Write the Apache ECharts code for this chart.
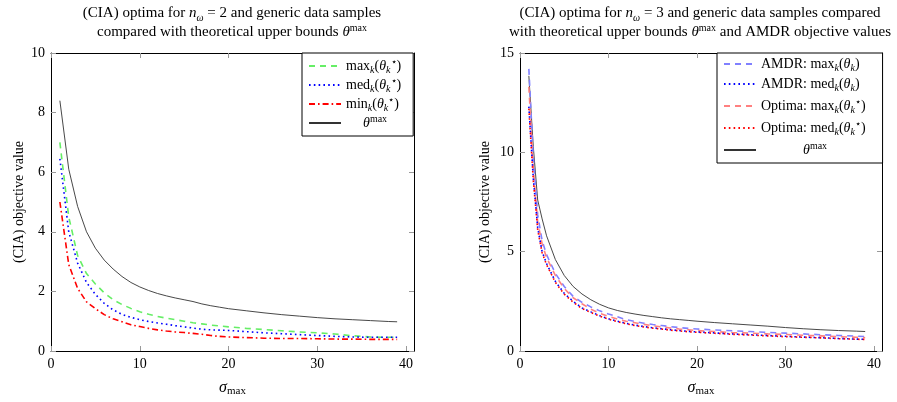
<!DOCTYPE html>
<html>
<head>
<meta charset="utf-8">
<script src="https://cdn.jsdelivr.net/npm/echarts@6/dist/echarts.min.js"></script>
<style>
html,body{margin:0;padding:0;background:#fff;}
#c{width:897px;height:402px;}
</style>
</head>
<body>
<div id="c"></div>
<script>
// ---- data ----
const sigmaL = [1,2,3,4,5,6,7,8,9,10,11,12,13,14,15,16,17,18,19,20,22,24,26,28,30,32,34,36,38,39];

// left panel (n_omega = 2)
const max2  = [7.0,4.5,3.2,2.6,2.25,1.95,1.72,1.56,1.43,1.32,1.23,1.16,1.1,1.05,1.0,0.95,0.91,0.87,0.84,0.81,0.76,0.72,0.68,0.64,0.61,0.57,0.51,0.47,0.46,0.46];
const med2  = [6.45,4.0,2.95,2.3,1.9,1.6,1.38,1.23,1.13,1.05,0.99,0.94,0.9,0.85,0.81,0.77,0.73,0.71,0.7,0.69,0.65,0.61,0.58,0.55,0.52,0.49,0.47,0.46,0.46,0.46];
const min2  = [5.0,2.9,2.1,1.65,1.42,1.22,1.08,0.98,0.88,0.82,0.76,0.71,0.67,0.64,0.62,0.59,0.56,0.52,0.49,0.47,0.45,0.43,0.42,0.42,0.41,0.40,0.40,0.39,0.39,0.39];
const thetaMax2 = [8.4,6.1,4.85,4.0,3.45,3.05,2.75,2.5,2.3,2.15,2.03,1.93,1.85,1.78,1.72,1.66,1.58,1.52,1.47,1.42,1.35,1.28,1.22,1.17,1.12,1.08,1.05,1.02,0.99,0.98];

// right panel (n_omega = 3)
const sigmaR = [1,1.5,2,2.5,3,4,5,6,7,8,9,10,11,12,13,14,15,16,17,18,19,20,22,24,26,28,30,32,34,36,38,39];
const amdrMax = [14.2,9.8,6.85,5.55,4.85,3.9,3.25,2.75,2.45,2.22,2.02,1.86,1.72,1.58,1.48,1.4,1.33,1.28,1.23,1.18,1.14,1.11,1.06,1.02,0.98,0.94,0.9,0.86,0.82,0.78,0.75,0.73];
const amdrMed = [12.3,8.7,6.2,5.0,4.4,3.5,2.9,2.5,2.17,1.97,1.78,1.62,1.5,1.39,1.3,1.23,1.17,1.12,1.07,1.03,0.99,0.96,0.91,0.86,0.82,0.78,0.74,0.70,0.67,0.63,0.60,0.59];
const optMax  = [13.3,9.2,6.5,5.4,4.7,3.8,3.15,2.68,2.38,2.1,1.9,1.74,1.61,1.5,1.42,1.34,1.27,1.21,1.16,1.11,1.07,1.03,0.98,0.93,0.9,0.86,0.83,0.79,0.76,0.72,0.69,0.67];
const optMed  = [12.2,8.6,6.1,4.95,4.35,3.45,2.86,2.46,2.14,1.94,1.75,1.6,1.48,1.37,1.28,1.21,1.15,1.1,1.05,1.01,0.97,0.94,0.89,0.84,0.8,0.76,0.72,0.69,0.66,0.62,0.59,0.58];
const thetaMax3 = [13.85,10.3,7.6,6.65,5.8,4.6,3.8,3.25,2.87,2.58,2.35,2.17,2.04,1.94,1.86,1.79,1.73,1.67,1.62,1.58,1.54,1.5,1.43,1.37,1.31,1.25,1.18,1.12,1.07,1.03,1.0,0.98];

// ticks
const xTicks = [0,10,20,30,40];
const yTicksLeft = [0,2,4,6,8,10];
const yTicksRight = [0,5,10,15];

// ---- chart ----
const FONT = 'Liberation Serif';
const rich = {
  r:   {fontFamily: FONT, fontSize: 14, lineHeight: 18, color: '#000'},
  i:   {fontFamily: FONT, fontSize: 14, lineHeight: 18, fontStyle: 'italic', color: '#000'},
  sub: {fontFamily: FONT, fontSize: 10, lineHeight: 10, verticalAlign: 'bottom', color: '#000'},
  isub:{fontFamily: FONT, fontSize: 10, lineHeight: 10, verticalAlign: 'bottom', fontStyle: 'italic', color: '#000'},
  sup: {fontFamily: FONT, fontSize: 10, lineHeight: 10, verticalAlign: 'top', color: '#000'},
  padL:{width: 17, lineHeight: 18},
  padR:{width: 42, lineHeight: 18}
};
const titleRich = {
  r:   {fontFamily: FONT, fontSize: 15, lineHeight: 19, color: '#000'},
  i:   {fontFamily: FONT, fontSize: 15, lineHeight: 19, fontStyle: 'italic', color: '#000'},
  isub:{fontFamily: FONT, fontSize: 10, lineHeight: 12, verticalAlign: 'bottom', fontStyle: 'italic', color: '#000'},
  sup: {fontFamily: FONT, fontSize: 10, lineHeight: 12, verticalAlign: 'top', color: '#000'}
};
const legendText = {
  'L1': '{r|max}{isub|k}{r|(}{i|θ}{isub|k}{sup|⋆}{r|)}',
  'L2': '{r|med}{isub|k}{r|(}{i|θ}{isub|k}{sup|⋆}{r|)}',
  'L3': '{r|min}{isub|k}{r|(}{i|θ}{isub|k}{sup|⋆}{r|)}',
  'L4': '{padL| }{i|θ}{sup|max}',
  'R1': '{r|AMDR: max}{isub|k}{r|(}{i|θ}{isub|k}{r|)}',
  'R2': '{r|AMDR: med}{isub|k}{r|(}{i|θ}{isub|k}{r|)}',
  'R3': '{r|Optima: max}{isub|k}{r|(}{i|θ}{isub|k}{sup|⋆}{r|)}',
  'R4': '{r|Optima: med}{isub|k}{r|(}{i|θ}{isub|k}{sup|⋆}{r|)}',
  'R5': '{padR| }{i|θ}{sup|max}'
};

function pairs(xs, ys){ return xs.map((x,i)=>[x, ys[i]]); }

function xAx(gi, pos){
  return {
    type: 'value', gridIndex: gi, position: pos, min: 0, max: 40.9,
    axisLine: {show: true, onZero: false, lineStyle: {color: '#000', width: 1}},
    axisTick: {show: true, inside: true, length: 5, customValues: xTicks, lineStyle: {color: '#999'}},
    axisLabel: pos === 'bottom' ? {show: true, customValues: xTicks, color: '#000', fontFamily: FONT, fontSize: 14, margin: 6} : {show: false},
    splitLine: {show: false},
    name: pos === 'bottom' ? '{i|σ}{sub|max}' : '',
    nameLocation: 'middle', nameGap: 28,
    nameTextStyle: {rich: {i: {fontFamily: FONT, fontSize: 16, fontStyle: 'italic', color: '#000', lineHeight: 18}, sub: {fontFamily: FONT, fontSize: 11, color: '#000', lineHeight: 11, verticalAlign: 'bottom'}}}
  };
}
function yAx(gi, pos, max, ticks){
  return {
    type: 'value', gridIndex: gi, position: pos, min: 0, max: max,
    axisLine: {show: true, onZero: false, lineStyle: {color: '#000', width: 1}},
    axisTick: {show: true, inside: true, length: 5, customValues: ticks, lineStyle: {color: '#999'}},
    axisLabel: pos === 'left' ? {show: true, customValues: ticks, color: '#000', fontFamily: FONT, fontSize: 14, margin: 6} : {show: false},
    splitLine: {show: false},
    name: pos === 'left' ? '(CIA) objective value' : '',
    nameLocation: 'middle', nameGap: gi === 0 ? 25 : 28,
    nameTextStyle: {fontFamily: FONT, fontSize: 14, color: '#000'}
  };
}

function ser(name, xi, yi, xs, ys, color, width, type){
  return {
    name, type: 'line', xAxisIndex: xi, yAxisIndex: yi, data: pairs(xs, ys),
    symbol: 'none', showSymbol: false, animation: false, z: 3,
    lineStyle: {color, width, type},
    itemStyle: {color}
  };
}

const DASH = [6,5], DOT = [1.6,3.2], DASHDOT = [6,3,1.6,3];

const option = {
  animation: false,
  backgroundColor: '#fff',
  title: [
    {left: 232, top: 4, textAlign: 'center', padding: 0,
     text: '{r|(CIA) optima for }{i|n}{isub|ω}{r| = 2 and generic data samples}\n{r|compared with theoretical upper bounds }{i|θ}{sup|max}',
     textStyle: {rich: titleRich, fontFamily: FONT, fontWeight: 'normal', color: '#000', lineHeight: 19}},
    {left: 700, top: 4, textAlign: 'center', padding: 0,
     text: '{r|(CIA) optima for }{i|n}{isub|ω}{r| = 3 and generic data samples compared}\n{r|with theoretical upper bounds }{i|θ}{sup|max}{r| and AMDR objective values}',
     textStyle: {rich: titleRich, fontFamily: FONT, fontWeight: 'normal', color: '#000', lineHeight: 19}}
  ],
  grid: [
    {left: 51, right: 483, top: 53, bottom: 48, show: false},
    {left: 520, right: 15, top: 53, bottom: 48, show: false}
  ],
  xAxis: [xAx(0,'bottom'), xAx(1,'bottom'), xAx(0,'top'), xAx(1,'top')],
  yAxis: [yAx(0,'left',10,yTicksLeft), yAx(1,'left',15,yTicksRight), yAx(0,'right',10,yTicksLeft), yAx(1,'right',15,yTicksRight)],
  legend: [
    {data: ['L1','L2','L3','L4'], orient: 'vertical', left: 302, top: 53,
     padding: [4,12,6,6], itemGap: 1, itemWidth: 32, itemHeight: 10,
     itemStyle: {opacity: 0},
     backgroundColor: '#fff', borderColor: '#000', borderWidth: 1,
     formatter: n => legendText[n], textStyle: {rich: rich}, selectedMode: false},
    {data: ['R1','R2','R3','R4','R5'], orient: 'vertical', left: 717, top: 53,
     padding: [4,17,6,6], itemGap: 4, itemWidth: 32, itemHeight: 10,
     itemStyle: {opacity: 0},
     backgroundColor: '#fff', borderColor: '#000', borderWidth: 1,
     formatter: n => legendText[n], textStyle: {rich: rich}, selectedMode: false}
  ],
  series: [
    ser('L4', 0, 0, sigmaL, thetaMax2, '#333', 0.9, 'solid'),
    ser('L1', 0, 0, sigmaL, max2, '#66ee66', 1.6, DASH),
    ser('L2', 0, 0, sigmaL, med2, '#0000ff', 1.6, DOT),
    ser('L3', 0, 0, sigmaL, min2, '#ff0000', 1.6, DASHDOT),
    ser('R5', 1, 1, sigmaR, thetaMax3, '#333', 0.9, 'solid'),
    ser('R1', 1, 1, sigmaR, amdrMax, '#8080ff', 1.6, DASH),
    ser('R3', 1, 1, sigmaR, optMax, '#ff8080', 1.6, DASH),
    ser('R2', 1, 1, sigmaR, amdrMed, '#0000ff', 1.6, DOT),
    ser('R4', 1, 1, sigmaR, optMed, '#ff0000', 1.6, DOT)
  ]
};
const chart = echarts.init(document.getElementById('c'), null, {renderer: 'canvas'});
chart.setOption(option);
</script>
</body>
</html>
